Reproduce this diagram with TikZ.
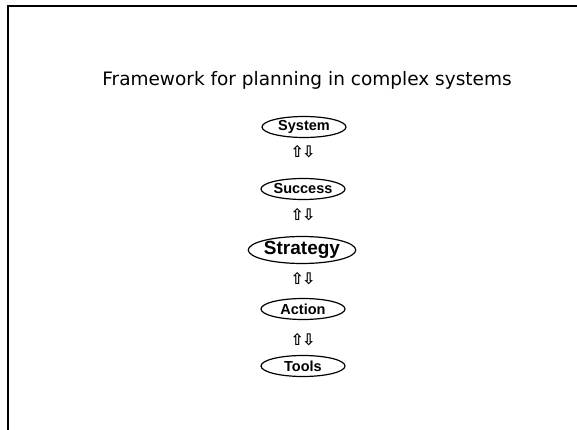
\documentclass[tikz,border=0pt]{standalone}
\usepackage{fontspec}
\setmainfont{Liberation Sans}
\newfontfamily\titlefont{DejaVu Sans}
\newfontfamily\arrowfont{DejaVu Sans}
\usetikzlibrary{shapes.geometric}

\tikzset{
	level/.style={draw, ellipse, line width=1.2pt, inner sep=0pt,
		minimum width=84pt, minimum height=21pt,
		font=\fontsize{14.5}{14.5}\selectfont\bfseries},
	updown/.style={inner sep=0pt, font=\arrowfont\bfseries\fontsize{16}{16}\selectfont}
}

\begin{document}
\begin{tikzpicture}[x=1pt, y=-1pt]
	\useasboundingbox (0,0) rectangle (577,430);
	% Frame (only left and top edge show)
	\draw[line width=2pt] (8,430) -- (8,6) -- (577,6);
	
	% Title
	\node[font=\titlefont\fontsize{18.5}{18.5}\selectfont] (title) at (307,80)
		{Framework for planning in complex systems};
	
	% The five levels
	\node[level] (system) at (304,127) {System};
	\node[level] (success) at (303,189) {Success};
	\node[level, minimum width=92pt, minimum height=27pt,
		font=\fontsize{19}{19}\selectfont\bfseries] (strategy) at (302,250) {Strategy};
	\node[level] (action) at (303,309) {Action};
	\node[level] (tools) at (303,366) {Tools};
	
	% Up/down arrows between the levels
	\foreach \y/\n in {152/a, 215/b, 279/c, 340/d} {
		\node[updown] (ud\n) at (303,\y) {⇧\kern-2pt⇩};
	}
\end{tikzpicture}
\end{document}
